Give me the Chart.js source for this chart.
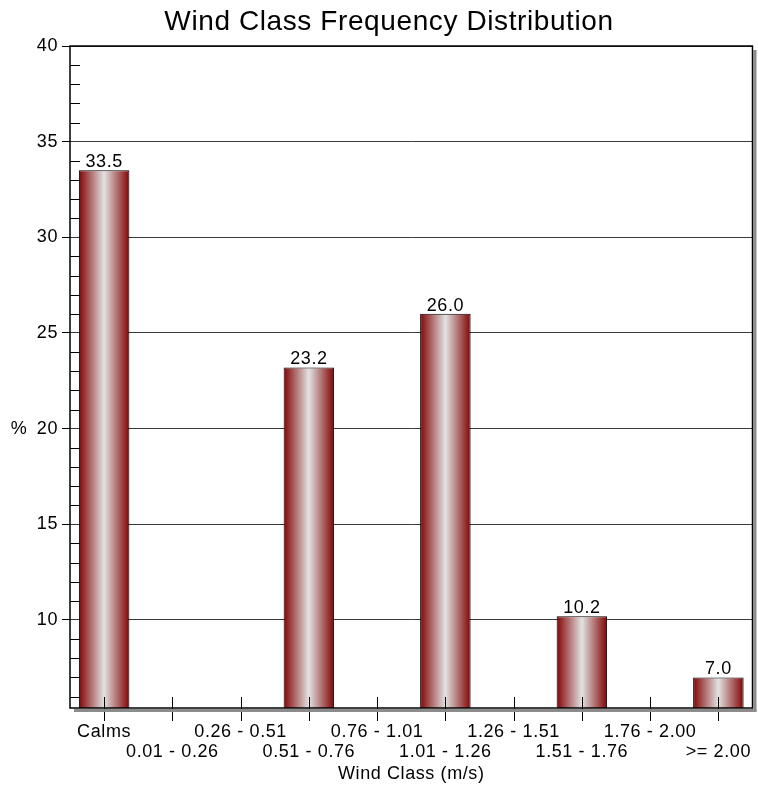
<!DOCTYPE html>
<html>
<head>
<meta charset="utf-8">
<script src="https://cdn.jsdelivr.net/npm/chart.js@4.4.1/dist/chart.umd.min.js"></script>
<style>
    html, body { margin: 0; padding: 0; background: #fff; }
    #wrap { width: 758px; height: 790px; }
</style>
</head>
<body>
<div id="wrap"><canvas id="windChart" width="758" height="790"></canvas></div>
<script>
// Wind class frequency (%)
const windClasses = ['Calms', '0.01 - 0.26', '0.26 - 0.51', '0.51 - 0.76', '0.76 - 1.01',
    '1.01 - 1.26', '1.26 - 1.51', '1.51 - 1.76', '1.76 - 2.00', '>= 2.00'];
const frequency = [33.5, null, null, 23.2, null, 26.0, null, 10.2, null, 7.0];
const yTicks = [10, 15, 20, 25, 30, 35, 40];
const yMin = 5.4;
const yMax = 40;

const chartTitle = 'Wind Class Frequency Distribution';
const FONT = 'Arial, "Liberation Sans", sans-serif';
const LABEL_SIZE = 18;

// horizontal red / silver / red shading across each bar
function barFill(context) {
    const chart = context.chart;
    const xs = chart.scales.x;
    if (!xs || !chart.chartArea) return '#8b0000';
    const cx = xs.getPixelForValue(context.dataIndex);
    const half = (xs.width / windClasses.length) * 0.74 / 2;
    const g = chart.ctx.createLinearGradient(cx - half, 0, cx + half, 0);
    g.addColorStop(0, '#820404');
    g.addColorStop(0.5, '#e2e2e2');
    g.addColorStop(1, '#820404');
    return g;
}

// slightly looser text spacing for all chart text
const textSpacing = {
    id: 'textSpacing',
    beforeDraw(chart) {
        chart.ctx.letterSpacing = '0.6px';
    }
};

// frame with drop shadow, inner minor ticks, title and the "%" label
const framePlugin = {
    id: 'frame',
    beforeDatasetsDraw(chart) {
        const { ctx, chartArea: a, scales } = chart;
        ctx.save();
        // minor ticks on the left side, inside the plot
        ctx.strokeStyle = '#000';
        ctx.lineWidth = 1;
        for (let v = Math.ceil(yMin); v < yMax; v++) {
            if (v % 5 === 0) continue;
            const y = Math.round(scales.y.getPixelForValue(v)) + 0.5;
            ctx.beginPath();
            ctx.moveTo(a.left, y);
            ctx.lineTo(a.left + 10, y);
            ctx.stroke();
        }
        ctx.restore();
    },
    afterDatasetsDraw(chart) {
        const { ctx, chartArea: a, scales } = chart;
        ctx.save();
        // category ticks crossing the bottom edge
        ctx.strokeStyle = '#000';
        ctx.lineWidth = 1;
        windClasses.forEach((c, i) => {
            const x = Math.round(scales.x.getPixelForValue(i)) + 0.5;
            ctx.beginPath();
            ctx.moveTo(x, a.bottom - 11);
            ctx.lineTo(x, a.bottom + 13);
            ctx.stroke();
        });
        // shadow
        ctx.fillStyle = '#8c8c8c';
        ctx.fillRect(a.right + 1, a.top + 4, 3, a.bottom - a.top);
        ctx.fillRect(a.left + 4, a.bottom + 1, a.right - a.left, 3);
        // frame
        ctx.strokeStyle = '#000';
        ctx.lineWidth = 1.5;
        ctx.strokeRect(a.left, a.top, a.right - a.left, a.bottom - a.top);
        // title
        ctx.fillStyle = '#000';
        ctx.textAlign = 'center';
        ctx.textBaseline = 'alphabetic';
        ctx.font = '28px ' + FONT;
        ctx.fillText(chartTitle, 389, 30);
        // y axis caption
        ctx.font = LABEL_SIZE + 'px ' + FONT;
        ctx.textBaseline = 'middle';
        ctx.fillText('%', 19, scales.y.getPixelForValue(20));
        ctx.restore();
    }
};

// value text above each bar
const valueLabels = {
    id: 'valueLabels',
    afterDatasetsDraw(chart) {
        const { ctx } = chart;
        const meta = chart.getDatasetMeta(0);
        ctx.save();
        ctx.fillStyle = '#000';
        ctx.font = LABEL_SIZE + 'px ' + FONT;
        ctx.textAlign = 'center';
        ctx.textBaseline = 'bottom';
        meta.data.forEach((bar, i) => {
            const v = frequency[i];
            if (v === null) return;
            ctx.fillText(v.toFixed(1), bar.x, bar.y + 1);
        });
        ctx.restore();
    }
};

new Chart(document.getElementById('windChart'), {
    type: 'bar',
    data: {
        labels: windClasses,
        datasets: [{
            data: frequency,
            backgroundColor: barFill,
            borderColor: '#000',
            borderWidth: 1,
            borderSkipped: 'bottom',
            categoryPercentage: 1,
            barPercentage: 0.74
        }]
    },
    options: {
        responsive: false,
        animation: false,
        layout: { padding: { left: 0, right: 5.5, top: 46, bottom: 0 } },
        plugins: {
            legend: { display: false },
            tooltip: { enabled: false },
            title: { display: false }
        },
        scales: {
            x: {
                type: 'category',
                grid: { display: false, drawTicks: false },
                border: { display: false },
                ticks: {
                    color: '#000',
                    font: { family: FONT, size: LABEL_SIZE, lineHeight: 1.11 },
                    padding: 14,
                    maxRotation: 0,
                    autoSkip: false,
                    callback: function(value, index) {
                        const label = windClasses[index];
                        return index % 2 === 0 ? label : ['', label];
                    }
                },
                title: {
                    display: true,
                    text: 'Wind Class (m/s)',
                    color: '#000',
                    font: { family: FONT, size: LABEL_SIZE },
                    padding: { top: 0, bottom: 5 }
                },
                afterFit(scale) {
                    scale.height = 82;
                    scale.paddingLeft = 0;
                    scale.paddingRight = 0;
                }
            },
            y: {
                min: yMin,
                max: yMax,
                afterBuildTicks(scale) {
                    scale.ticks = yTicks.map(v => ({ value: v }));
                },
                grid: {
                    color: '#3a3a3a',
                    lineWidth: 1,
                    tickLength: 8,
                    tickColor: '#000'
                },
                border: { display: false },
                ticks: {
                    color: '#000',
                    font: { family: FONT, size: LABEL_SIZE },
                    padding: 4
                },
                afterFit(scale) {
                    scale.width = 70;
                    scale.paddingTop = 0;
                    scale.paddingBottom = 0;
                }
            }
        }
    },
    plugins: [textSpacing, framePlugin, valueLabels]
});
</script>
</body>
</html>
